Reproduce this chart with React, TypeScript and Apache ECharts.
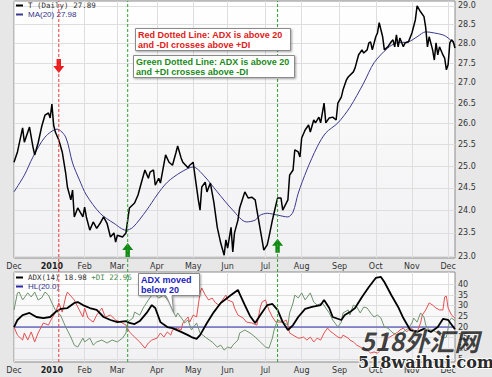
import React, { useEffect, useRef } from "react";
import * as echarts from "echarts";

// ---------- data ----------
const monthLabels = ["Dec", "2010", "Feb", "Mar", "Apr", "May", "Jun", "Jul", "Aug", "Sep", "Oct", "Nov", "Dec"];
const monthStartDays = [0, 22, 41, 60, 83, 104, 124, 146, 167, 189, 210, 231, 252];
const dayRange = [0, 256];

const priceTicks = [23.0, 23.5, 24.0, 24.5, 25.0, 25.5, 26.0, 26.5, 27.0, 27.5, 28.0, 28.5, 29.0];
const priceRange = [22.96, 29.13];
const indicatorTicks = [5, 10, 15, 20, 25, 30, 35, 40];
const indicatorRange = [3.6, 45.8];
const hlLevel = 20;

const priceDays = [0, 2, 5, 6, 9, 11, 12, 14, 16, 18, 20, 21, 22, 23, 24, 26, 28, 30, 31, 33, 34, 35, 37, 40, 41, 42, 44, 46, 48, 50, 52, 54, 56, 58, 59, 60, 63, 65, 66, 67, 70, 72, 74, 76, 78, 79, 81, 82, 84, 85, 88, 90, 92, 94, 95, 97, 98, 101, 102, 104, 105, 107, 108, 109, 111, 112, 114, 116, 118, 120, 122, 123, 124, 126, 127, 128, 130, 131, 133, 134, 136, 138, 140, 142, 144, 145, 147, 148, 150, 152, 153, 155, 156, 159, 160, 162, 163, 165, 166, 167, 169, 171, 172, 174, 175, 177, 178, 180, 181, 183, 185, 187, 188, 190, 191, 193, 194, 197, 198, 200, 202, 203, 205, 206, 207, 208, 210, 211, 212, 214, 215, 217, 219, 220, 221, 222, 223, 224, 226, 227, 229, 231, 233, 234, 236, 238, 239, 240, 241, 243, 244, 245, 246, 247, 249, 250, 251, 252, 253, 254, 255, 256];
const priceValues = [25.09, 25.33, 25.9, 25.56, 25.92, 25.45, 25.26, 25.54, 25.92, 26.21, 26.26, 26.14, 26.48, 25.97, 25.8, 25.61, 25.33, 24.84, 24.52, 24.23, 24.45, 23.85, 24.05, 23.85, 24.07, 23.85, 23.56, 23.74, 23.6, 23.71, 23.85, 23.71, 23.41, 23.5, 23.3, 23.45, 23.41, 23.5, 23.78, 24.05, 24.16, 24.34, 24.63, 24.91, 24.72, 24.86, 24.91, 24.56, 24.72, 24.61, 25.26, 25.09, 25.02, 25.31, 25.47, 25.19, 25.09, 24.96, 25.02, 25.09, 24.79, 24.23, 24.0, 24.52, 24.63, 24.41, 24.61, 24.18, 23.62, 23.28, 23.02, 23.35, 23.17, 23.62, 23.09, 23.5, 23.78, 24.05, 24.29, 24.41, 24.27, 24.29, 24.23, 23.78, 23.35, 23.13, 23.24, 23.41, 23.78, 24.11, 24.27, 24.27, 24.0, 24.23, 24.79, 24.91, 25.38, 25.33, 25.21, 25.66, 25.85, 25.97, 25.8, 26.09, 26.02, 26.16, 26.02, 26.5, 26.02, 26.14, 26.16, 26.09, 26.5, 26.65, 26.83, 27.08, 27.15, 27.28, 27.38, 27.71, 27.84, 27.76, 27.84, 28.02, 28.05, 27.84, 28.18, 28.28, 28.55, 28.18, 27.84, 27.92, 28.05, 28.1, 27.92, 28.23, 27.92, 28.15, 27.92, 28.02, 28.05, 28.28, 28.63, 29.0, 28.84, 28.71, 28.42, 27.92, 28.18, 27.84, 27.58, 28.02, 27.71, 27.92, 27.71, 27.63, 27.33, 27.46, 28.02, 28.1, 28.05, 27.89];

const maDays = [0, 6, 11, 18, 25, 30, 34, 38, 42, 50, 58, 65, 69, 77, 83, 89, 97, 104, 110, 118, 127, 135, 140, 143, 147, 153, 159, 162, 165, 170, 176, 181, 188, 195, 203, 209, 217, 222, 229, 234, 239, 244, 249, 252, 256];
const maValues = [24.41, 24.79, 25.21, 25.68, 25.87, 25.68, 25.07, 24.68, 24.34, 23.93, 23.71, 23.56, 23.62, 24.0, 24.34, 24.63, 24.86, 24.98, 24.79, 24.41, 24.0, 23.74, 23.78, 23.89, 23.93, 23.89, 23.85, 23.96, 24.38, 24.91, 25.45, 25.78, 26.02, 26.4, 27.0, 27.51, 27.89, 28.02, 28.05, 28.18, 28.31, 28.28, 28.23, 28.15, 27.98];

const adxDays = [0, 2, 5, 9, 13, 17, 21, 24, 27, 31, 35, 37, 40, 44, 48, 52, 56, 60, 65, 67, 70, 73, 77, 80, 82, 85, 89, 92, 97, 101, 103, 106, 108, 112, 116, 120, 126, 130, 131, 134, 137, 140, 143, 147, 150, 153, 156, 159, 162, 165, 169, 173, 178, 180, 183, 185, 190, 192, 195, 198, 202, 206, 210, 213, 215, 219, 223, 226, 230, 234, 238, 242, 246, 249, 252, 256];
const adxValues = [20.0, 23.3, 25.6, 26.6, 24.7, 24.2, 24.7, 27.0, 28.5, 28.9, 31.3, 31.7, 30.3, 28.9, 28.0, 24.7, 23.3, 22.3, 22.8, 21.9, 21.4, 22.8, 26.6, 30.3, 28.9, 22.3, 20.0, 19.5, 17.7, 16.2, 15.3, 14.4, 16.2, 21.9, 27.0, 31.3, 35.0, 37.4, 35.5, 30.3, 25.2, 21.9, 25.6, 30.3, 30.8, 28.0, 22.3, 18.6, 20.9, 24.7, 28.5, 29.4, 30.3, 32.7, 28.9, 24.7, 23.3, 25.6, 27.0, 28.9, 34.1, 38.8, 43.0, 43.5, 41.1, 35.0, 29.4, 24.2, 18.6, 17.7, 19.1, 17.7, 20.0, 23.8, 23.3, 18.98];

const plusDiDays = [0, 2, 3, 5, 8, 10, 12, 14, 16, 18, 20, 22, 24, 27, 30, 33, 35, 37, 40, 41, 44, 46, 48, 51, 54, 57, 60, 63, 65, 66, 69, 70, 73, 75, 78, 81, 84, 87, 90, 92, 94, 95, 98, 99, 101, 103, 106, 108, 111, 115, 118, 120, 122, 124, 126, 127, 130, 131, 134, 137, 140, 143, 146, 148, 150, 151, 153, 156, 159, 160, 162, 163, 165, 167, 169, 172, 174, 176, 179, 181, 183, 185, 188, 190, 191, 194, 195, 197, 199, 201, 203, 205, 207, 209, 211, 213, 215, 217, 220, 223, 226, 229, 231, 232, 234, 236, 238, 239, 241, 243, 246, 249, 251, 252, 253, 254, 256];
const plusDiValues = [28.0, 36.0, 36.4, 32.7, 36.0, 34.1, 36.4, 32.7, 33.6, 36.4, 35.0, 31.3, 28.0, 25.6, 20.0, 15.3, 11.5, 10.6, 14.8, 13.0, 14.8, 11.5, 13.0, 13.9, 12.5, 13.9, 13.0, 14.8, 17.2, 22.3, 24.2, 27.0, 25.6, 28.9, 32.7, 36.0, 33.6, 35.0, 31.7, 28.0, 24.7, 26.6, 23.3, 21.9, 23.3, 18.6, 21.9, 17.2, 15.3, 13.0, 10.6, 11.5, 9.2, 10.6, 10.1, 11.5, 13.9, 17.2, 18.6, 17.2, 15.3, 13.0, 10.6, 10.1, 14.8, 18.6, 23.3, 22.3, 20.9, 26.6, 31.3, 35.0, 33.6, 36.0, 32.7, 36.0, 31.7, 30.3, 31.3, 28.9, 26.6, 23.3, 20.0, 22.3, 26.6, 28.0, 25.6, 30.3, 29.4, 26.6, 29.4, 28.9, 26.6, 24.7, 25.6, 24.2, 20.0, 19.5, 17.2, 16.2, 17.7, 19.5, 21.9, 24.2, 22.3, 26.6, 24.7, 20.9, 18.6, 18.6, 17.2, 14.8, 15.3, 19.5, 23.3, 24.2, 22.96];

const minusDiDays = [0, 2, 5, 6, 8, 10, 12, 14, 17, 20, 22, 24, 26, 28, 30, 31, 34, 35, 37, 40, 41, 43, 46, 48, 51, 53, 56, 59, 62, 65, 67, 70, 73, 76, 78, 80, 83, 85, 87, 89, 91, 92, 95, 97, 98, 101, 102, 104, 106, 108, 109, 111, 113, 115, 117, 119, 121, 123, 124, 127, 128, 130, 133, 135, 138, 141, 143, 144, 146, 147, 148, 150, 152, 153, 156, 158, 159, 160, 162, 165, 166, 168, 170, 172, 174, 176, 178, 180, 182, 184, 185, 188, 190, 191, 194, 195, 197, 199, 201, 203, 205, 207, 209, 211, 213, 215, 217, 220, 223, 224, 226, 228, 230, 232, 234, 236, 237, 239, 241, 243, 245, 247, 249, 250, 251, 252, 254, 256];
const minusDiValues = [20.0, 16.2, 13.9, 17.2, 13.9, 17.7, 13.0, 17.2, 21.9, 20.9, 24.2, 26.6, 31.3, 27.0, 34.1, 36.4, 33.6, 32.7, 29.4, 24.7, 28.9, 24.2, 22.3, 25.6, 28.9, 24.7, 25.6, 23.3, 22.3, 20.9, 17.7, 15.3, 13.0, 10.1, 12.5, 13.9, 14.8, 17.2, 15.3, 17.7, 16.2, 18.6, 19.5, 18.6, 21.9, 24.7, 22.3, 25.6, 24.7, 36.0, 38.3, 35.0, 32.7, 33.6, 31.3, 30.3, 32.7, 35.0, 32.7, 31.7, 28.9, 25.6, 24.2, 22.3, 21.9, 20.9, 29.4, 31.7, 32.7, 30.3, 28.0, 24.7, 22.3, 22.3, 22.3, 23.3, 20.9, 17.2, 16.2, 14.8, 14.8, 15.3, 13.9, 15.3, 13.0, 14.8, 13.9, 17.2, 19.5, 17.7, 17.2, 15.3, 14.8, 16.2, 14.8, 13.9, 13.0, 11.5, 10.6, 10.1, 9.2, 7.8, 8.3, 7.8, 9.2, 10.6, 14.8, 16.2, 17.7, 18.6, 19.5, 17.7, 19.5, 18.6, 17.7, 21.9, 25.6, 28.0, 31.3, 30.3, 28.9, 28.0, 28.0, 34.1, 34.5, 28.9, 25.6, 24.2];

// signal markers (trading day, arrow level)
const signalDays = [26, 66, 153];
const signalArrowLevels = [27.43, 23.13, 23.22];
const signalKinds = ["down", "up", "up"];

// ---------- helpers ----------
const ln = Math.log;
const pairs = (days: number[], vals: number[], f: (v: number) => number = (v) => v) =>
  days.map((d, i) => [d, f(vals[i])]);
const last = (a: number[]) => a[a.length - 1];

const L = 14;
const R = 37;
const GRID0 = { top: 1, height: 257 };
const GRID1 = { top: 272, height: 90 };

const redC = "#e02020";
const greenC = "#1a8a1a";
const blueC = "#2a2aa8";
const gridLineC = "#dedede";
const axisTextC = "#333";
const signalLineColor = { down: "#e8383a", up: "#2fa02f" } as Record<string, string>;

const ARROW_DOWN = "path://M3,0 L7,0 L7,6 L10,6 L5,12 L0,6 L3,6 Z";
const ARROW_UP = "path://M5,0 L10,6 L7,6 L7,12 L3,12 L3,6 L0,6 Z";

function xAxis(gridIndex: number, show: boolean) {
  return {
    type: "value",
    gridIndex,
    min: dayRange[0],
    max: dayRange[1],
    show,
    axisLine: { show: false },
    axisTick: { show: false, customValues: monthStartDays },
    axisLabel: {
      customValues: monthStartDays,
      fontSize: 8,
      fontFamily: "DejaVu Sans",
      color: axisTextC,
      margin: 4,
      formatter: (v: number) => {
        const i = monthStartDays.indexOf(Math.round(v));
        const t = i >= 0 ? monthLabels[i] : "";
        return t === "2010" ? `{b|${t}}` : t;
      },
      rich: { b: { fontWeight: "bold", fontSize: 8, fontFamily: "DejaVu Sans", color: "#222" } },
    },
    splitLine: { show: true, lineStyle: { color: gridLineC, width: 1 } },
  };
}

export default function App() {
  const ref = useRef<HTMLDivElement>(null);

  useEffect(() => {
    if (!ref.current) return;
    const chart = echarts.init(ref.current, undefined, { renderer: "svg" });
    const bg = new echarts.graphic.LinearGradient(0, 0, 0, 1, [
      { offset: 0, color: "#ffffff" },
      { offset: 1, color: "#f1f1f3" },
    ]);
    const priceTickLn = priceTicks.map(ln);

    const boxStyle = {
      fill: "#ffffff",
      stroke: "#8a8a8a",
      lineWidth: 1,
      shadowBlur: 2,
      shadowOffsetX: 1,
      shadowOffsetY: 1,
      shadowColor: "rgba(0,0,0,0.35)",
    };
    const noteFont = { fontFamily: "Liberation Sans", fontWeight: "bold", fontSize: 9, lineHeight: 10 };

    // vertical dotted signal lines spanning both panels (overlay grid, y from 0 to 1)
    const signalSeries = signalDays.map((d, i) => {
      const c = signalLineColor[signalKinds[i]];
      return {
        name: `signal-${i}`,
        type: "line",
        xAxisIndex: 2,
        yAxisIndex: 2,
        data: [
          [d, 0],
          [d, 1],
        ],
        showSymbol: false,
        silent: true,
        z: 5,
        lineStyle: { color: c, type: [3, 2], width: 1 },
        itemStyle: { color: c },
      };
    });

    chart.setOption({
      animation: false,
      backgroundColor: "#e7e7e7",
      grid: [
        { left: L, right: R, top: GRID0.top, height: GRID0.height, show: true, backgroundColor: bg, borderColor: "#8c8c8c", borderWidth: 1 },
        { left: L, right: R, top: GRID1.top, height: GRID1.height, show: true, backgroundColor: bg, borderColor: "#8c8c8c", borderWidth: 1 },
        { left: L, right: R, top: GRID0.top, height: GRID1.top + GRID1.height - GRID0.top, show: false },
      ],
      xAxis: [
        xAxis(0, true),
        xAxis(1, true),
        { type: "value", gridIndex: 2, min: dayRange[0], max: dayRange[1], show: false },
      ],
      yAxis: [
        {
          type: "value",
          gridIndex: 0,
          position: "right",
          min: ln(priceRange[0]),
          max: ln(priceRange[1]),
          axisLine: { show: false },
          axisTick: { show: false, customValues: priceTickLn },
          axisLabel: {
            customValues: priceTickLn,
            formatter: (v: number) => Math.exp(v).toFixed(1),
            fontSize: 8,
            fontFamily: "DejaVu Sans",
            color: axisTextC,
            margin: 3,
          },
          splitLine: { show: true, lineStyle: { color: gridLineC, width: 1 } },
        },
        {
          type: "value",
          gridIndex: 1,
          position: "right",
          min: indicatorRange[0],
          max: indicatorRange[1],
          axisLine: { show: false },
          axisTick: { show: false, customValues: indicatorTicks },
          axisLabel: {
            customValues: indicatorTicks,
            formatter: (v: number) => String(Math.round(v)),
            fontSize: 8,
            fontFamily: "DejaVu Sans",
            color: axisTextC,
            margin: 3,
          },
          splitLine: { show: true, lineStyle: { color: gridLineC, width: 1 } },
        },
        { type: "value", gridIndex: 2, min: 0, max: 1, show: false },
      ],
      legend: [
        {
          left: L,
          top: 0,
          orient: "vertical",
          icon: "rect",
          itemWidth: 7,
          itemHeight: 2,
          itemGap: 0,
          padding: [1, 2],
          selectedMode: false,
          data: [
            { name: "T (Daily)", textStyle: { color: "#333", fontFamily: "DejaVu Sans Mono", fontSize: 7.5, lineHeight: 9 } },
            { name: "MA(20)", textStyle: { color: "#33338a", fontFamily: "Liberation Sans", fontSize: 8, lineHeight: 9 } },
          ],
          formatter: (n: string) =>
            n === "T (Daily)" ? `T (Daily) ${last(priceValues).toFixed(2)}` : `MA(20) ${last(maValues).toFixed(2)}`,
        },
        {
          left: L,
          top: GRID1.top,
          orient: "vertical",
          icon: "rect",
          itemWidth: 7,
          itemHeight: 2,
          itemGap: 0,
          padding: [1, 2],
          selectedMode: false,
          textStyle: {
            rich: { g: { color: "#4c8a4c", fontFamily: "DejaVu Sans Mono", fontSize: 7.5 } },
          },
          data: [
            { name: "ADX(14)", textStyle: { color: "#333", fontFamily: "DejaVu Sans Mono", fontSize: 7.5, lineHeight: 9 } },
            { name: "HL(20.0)", textStyle: { color: "#33338a", fontFamily: "Liberation Sans", fontSize: 8, lineHeight: 9 } },
          ],
          formatter: (n: string) =>
            n === "ADX(14)"
              ? `ADX(14) ${last(adxValues).toFixed(2)} {g|+DI ${last(plusDiValues).toFixed(2)}}`
              : "HL(20.0)",
        },
      ],
      series: [
        {
          name: "MA(20)",
          type: "line",
          xAxisIndex: 0,
          yAxisIndex: 0,
          data: pairs(maDays, maValues, ln),
          showSymbol: false,
          smooth: 0.3,
          lineStyle: { color: "#3a3a8e", width: 1 },
          itemStyle: { color: "#3a3a8e" },
          z: 2,
        },
        {
          name: "T (Daily)",
          type: "line",
          xAxisIndex: 0,
          yAxisIndex: 0,
          data: pairs(priceDays, priceValues, ln),
          showSymbol: false,
          lineStyle: { color: "#000", width: 1.5 },
          itemStyle: { color: "#000" },
          z: 3,
          markPoint: {
            silent: true,
            label: { show: false },
            data: signalDays.map((d, i) => ({
              coord: [d, ln(signalArrowLevels[i])],
              symbol: signalKinds[i] === "down" ? ARROW_DOWN : ARROW_UP,
              symbolSize: [11, 14],
              itemStyle: { color: signalKinds[i] === "down" ? "#ee1c1c" : "#138a13" },
            })),
          },
        },
        {
          name: "HL(20.0)",
          type: "line",
          xAxisIndex: 1,
          yAxisIndex: 1,
          data: [
            [dayRange[0], hlLevel],
            [dayRange[1], hlLevel],
          ],
          showSymbol: false,
          lineStyle: { color: blueC, width: 1 },
          itemStyle: { color: blueC },
          z: 2,
        },
        {
          name: "-DI",
          type: "line",
          xAxisIndex: 1,
          yAxisIndex: 1,
          data: pairs(minusDiDays, minusDiValues),
          showSymbol: false,
          lineStyle: { color: "#e65050", width: 1 },
          itemStyle: { color: "#e65050" },
          z: 3,
        },
        {
          name: "+DI",
          type: "line",
          xAxisIndex: 1,
          yAxisIndex: 1,
          data: pairs(plusDiDays, plusDiValues),
          showSymbol: false,
          lineStyle: { color: "#6e946e", width: 1 },
          itemStyle: { color: "#6e946e" },
          z: 3,
        },
        {
          name: "ADX(14)",
          type: "line",
          xAxisIndex: 1,
          yAxisIndex: 1,
          data: pairs(adxDays, adxValues),
          showSymbol: false,
          lineStyle: { color: "#000", width: 1.8 },
          itemStyle: { color: "#000" },
          z: 4,
        },
        ...signalSeries,
      ],
      graphic: [
        { type: "rect", z: 50, shape: { x: 135.5, y: 28.5, width: 155, height: 22 }, style: boxStyle },
        {
          type: "text",
          z: 51,
          x: 138,
          y: 30,
          style: { text: "Red Dotted Line: ADX is above 20\nand -DI crosses above +DI", fill: redC, ...noteFont },
        },
        { type: "rect", z: 50, shape: { x: 133.5, y: 55.5, width: 161, height: 22 }, style: boxStyle },
        {
          type: "text",
          z: 51,
          x: 136,
          y: 57,
          style: { text: "Green Dotted Line: ADX is above 20\nand +DI crosses above -DI", fill: greenC, ...noteFont },
        },
        {
          type: "polygon",
          z: 50,
          shape: {
            points: [
              [138.5, 273.5],
              [199.5, 273.5],
              [199.5, 295.5],
              [172, 295.5],
              [173.5, 312],
              [166, 295.5],
              [138.5, 295.5],
            ],
          },
          style: boxStyle,
        },
        {
          type: "text",
          z: 51,
          x: 141,
          y: 275,
          style: { text: "ADX moved\nbelow 20", fill: "#2222bb", ...noteFont },
        },
        {
          type: "text",
          z: 60,
          x: 360,
          y: 327,
          style: {
            text: "518外汇网",
            fill: "rgba(25,25,25,0.82)",
            fontFamily: "Noto Sans CJK SC",
            fontWeight: "bold",
            fontStyle: "italic",
            fontSize: 25,
            stroke: "rgba(255,255,255,0.6)",
            lineWidth: 1,
          },
        },
        {
          type: "text",
          z: 60,
          x: 358,
          y: 354,
          style: {
            text: "518waihui.com",
            fill: "#2a2a2a",
            fontFamily: "DejaVu Serif",
            fontWeight: "bold",
            fontSize: 16,
            stroke: "#ffffff",
            lineWidth: 2,
          },
        },
      ],
    });
    return () => chart.dispose();
  }, []);

  return (
    <div
      ref={ref}
      style={{ position: "fixed", left: 0, top: 0, width: 492, height: 377 }}
    />
  );
}
